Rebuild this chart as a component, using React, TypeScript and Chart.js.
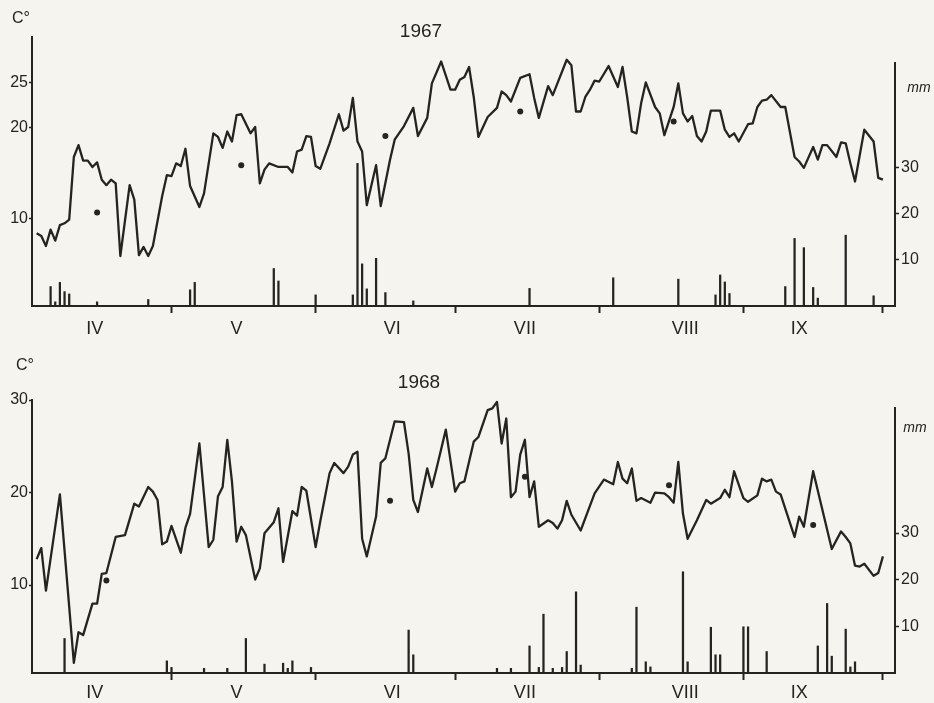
import React, { useEffect, useRef } from 'react';
import { Chart, registerables } from 'chart.js';

Chart.register(...registerables);

// ---------- shared axis data ----------
const monthBoundaryDays = [0, 30, 61, 91, 122, 153, 183];
const monthLabels = ['IV', 'V', 'VI', 'VII', 'VIII', 'IX'];
const monthLabelDays = [13.5, 44, 77.5, 106, 140.5, 165];
const rainTicks = [10, 20, 30];

// ---------- 1967 ----------
const temp1967Days = [1, 2, 3, 4, 5, 6, 7, 8, 9, 10, 11, 12, 13, 14, 15, 16, 17, 18, 19, 21, 22, 23, 24, 25, 26, 28, 29, 30, 31, 32, 33, 34, 36, 37, 39, 40, 41, 42, 43, 44, 45, 47, 48, 49, 50, 51, 53, 55, 56, 57, 58, 59, 60, 61, 62, 64, 66, 67, 68, 69, 70, 71, 72, 74, 75, 77, 78, 80, 82, 83, 85, 86, 88, 90, 91, 92, 93, 94, 95, 96, 98, 100, 101, 102, 103, 105, 107, 108, 109, 111, 112, 115, 116, 117, 118, 119, 120, 121, 122, 124, 126, 127, 128, 129, 130, 131, 132, 134, 135, 136, 138, 139, 140, 141, 142, 143, 144, 145, 146, 148, 149, 150, 151, 152, 154, 155, 156, 157, 158, 159, 161, 162, 164, 165, 166, 168, 169, 170, 171, 173, 174, 175, 176, 177, 179, 181, 182, 183];
const temp1967 = [8.4, 8.1, 7.0, 8.8, 7.6, 9.3, 9.5, 9.9, 16.8, 18.1, 16.4, 16.4, 15.7, 16.2, 14.3, 13.7, 14.3, 13.9, 5.9, 13.7, 12.1, 6.0, 6.9, 5.9, 7.0, 12.5, 14.8, 14.7, 16.1, 15.8, 17.7, 13.6, 11.3, 12.8, 19.4, 19.0, 17.8, 19.6, 18.5, 21.4, 21.5, 19.4, 20.1, 13.9, 15.4, 16.1, 15.7, 15.7, 15.1, 17.4, 17.6, 19.1, 19.0, 15.8, 15.5, 18.3, 21.5, 19.7, 20.1, 23.3, 18.5, 17.4, 11.5, 15.9, 11.4, 16.5, 18.7, 20.2, 22.2, 19.1, 21.1, 24.9, 27.3, 24.2, 24.2, 25.3, 25.6, 26.7, 23.4, 19.0, 21.2, 22.2, 24.0, 23.6, 22.9, 25.5, 25.9, 23.3, 21.1, 24.6, 23.6, 27.5, 26.9, 21.8, 21.8, 23.4, 24.2, 25.2, 25.1, 26.8, 24.5, 26.7, 23.4, 19.6, 19.4, 22.7, 25.0, 22.3, 21.6, 19.2, 22.3, 24.9, 21.6, 20.7, 21.3, 19.1, 18.5, 19.6, 21.9, 21.9, 19.8, 19.0, 19.4, 18.5, 20.4, 20.5, 22.3, 23.0, 23.1, 23.6, 22.3, 22.3, 16.8, 16.3, 15.6, 17.9, 16.5, 18.1, 18.1, 16.8, 18.4, 18.3, 16.1, 14.1, 19.8, 18.5, 14.5, 14.3];
const rain1967Days = [4, 5, 6, 7, 8, 14, 25, 34, 35, 52, 53, 61, 69, 70, 71, 72, 74, 76, 82, 107, 125, 139, 147, 148, 149, 150, 162, 164, 166, 168, 169, 175, 181];
const rain1967 = [4.2, 0.9, 5.1, 3.1, 2.6, 0.9, 1.4, 3.5, 5.1, 8.1, 5.4, 2.4, 2.4, 30.8, 9.1, 3.7, 10.3, 2.9, 1.1, 3.8, 6.1, 5.8, 2.4, 6.7, 5.2, 2.7, 4.2, 14.6, 12.6, 4.0, 1.7, 15.3, 2.2];
const mean1967Days = [14, 45, 76, 105, 138];
const mean1967 = [10.7, 15.9, 19.1, 21.8, 20.7];
const tempTicks1967 = [10, 20, 25];

// ---------- 1968 ----------
const temp1968Days = [1, 2, 3, 6, 9, 10, 11, 13, 14, 15, 16, 18, 20, 22, 23, 25, 26, 27, 28, 29, 30, 32, 33, 34, 36, 38, 39, 40, 41, 42, 43, 44, 45, 46, 48, 49, 50, 52, 53, 54, 56, 57, 58, 59, 61, 62, 64, 65, 67, 68, 69, 70, 71, 72, 74, 75, 76, 78, 80, 81, 82, 83, 85, 86, 87, 89, 91, 92, 93, 95, 96, 98, 99, 100, 101, 102, 103, 104, 105, 106, 107, 108, 109, 111, 112, 113, 114, 115, 116, 118, 121, 123, 125, 126, 127, 128, 129, 130, 131, 133, 134, 136, 137, 138, 139, 140, 141, 143, 145, 146, 148, 149, 150, 151, 153, 154, 156, 157, 158, 159, 160, 161, 164, 165, 166, 168, 172, 174, 175, 176, 177, 178, 179, 181, 182, 183];
const temp1968 = [12.8, 14.0, 9.4, 19.8, 1.6, 4.9, 4.6, 8.0, 8.0, 11.2, 11.3, 15.2, 15.4, 18.8, 18.5, 20.6, 20.1, 19.2, 14.4, 14.7, 16.4, 13.5, 16.2, 17.7, 25.3, 14.1, 14.9, 19.6, 20.6, 25.7, 21.2, 14.7, 16.3, 15.4, 10.6, 11.8, 15.6, 16.8, 18.3, 12.5, 18.0, 17.5, 20.6, 20.2, 14.1, 16.9, 22.1, 23.2, 22.1, 22.8, 24.1, 24.4, 15.0, 13.1, 17.4, 23.2, 23.7, 27.7, 27.6, 24.2, 19.2, 17.9, 22.6, 20.6, 22.6, 26.8, 20.1, 21.0, 21.2, 25.5, 26.0, 28.9, 29.1, 29.8, 25.3, 28.0, 19.5, 20.1, 24.1, 25.7, 19.5, 21.2, 16.3, 17.0, 16.7, 16.1, 17.0, 19.1, 17.6, 15.9, 19.9, 21.4, 20.9, 23.3, 21.5, 21.0, 22.6, 19.1, 19.4, 18.9, 20.0, 19.9, 19.5, 18.9, 23.3, 17.7, 15.0, 17.0, 19.2, 18.8, 19.4, 20.3, 19.5, 22.3, 19.4, 19.0, 19.7, 21.5, 21.2, 21.4, 20.1, 19.8, 15.2, 17.4, 16.3, 22.3, 13.9, 15.8, 15.2, 14.5, 12.1, 12.0, 12.3, 11.0, 11.3, 13.1];
const rain1968Days = [7, 29, 30, 37, 42, 46, 50, 54, 55, 56, 60, 81, 82, 100, 103, 107, 109, 110, 112, 114, 115, 117, 118, 129, 130, 132, 133, 140, 141, 146, 147, 148, 153, 154, 158, 169, 171, 172, 175, 176, 177];
const rain1968 = [7.4, 2.6, 1.2, 1.0, 1.0, 7.4, 1.9, 2.1, 1.0, 2.6, 1.2, 9.2, 3.9, 1.0, 1.0, 5.8, 1.2, 12.6, 1.0, 1.2, 4.6, 17.4, 1.7, 1.0, 14.1, 2.4, 1.3, 21.7, 2.4, 9.8, 3.9, 3.9, 9.9, 9.9, 4.6, 5.8, 14.9, 3.6, 9.4, 1.3, 2.4];
const mean1968Days = [16, 77, 106, 137, 168];
const mean1968 = [10.5, 19.1, 21.7, 20.8, 16.5];
const tempTicks1968 = [10, 20, 30];

// ---------- styling ----------
const INK = '#262421';
const PAPER = '#f6f4ef';
const FONT = "'Liberation Sans', 'DejaVu Sans', sans-serif";
const W = 934;

const toPoints = (xs: number[], ys: number[]) => xs.map((x, i) => ({ x, y: ys[i] }));

const annotate = {
  id: 'annotate',
  beforeDraw(chart: any) {
    const { ctx } = chart;
    ctx.save();
    ctx.fillStyle = PAPER;
    ctx.fillRect(0, 0, chart.width, chart.height);
    ctx.restore();
  },
  afterDraw(chart: any, _args: any, opts: any) {
    const { ctx } = chart;
    const y2 = chart.scales.y2;
    ctx.save();
    ctx.strokeStyle = INK;
    ctx.lineWidth = 2;
    ctx.beginPath();
    ctx.moveTo(y2.left, y2.getPixelForValue(opts.mmAxisTop));
    ctx.lineTo(y2.left, chart.chartArea.bottom + 1);
    ctx.stroke();
    ctx.fillStyle = INK;
    ctx.textAlign = 'center';
    ctx.textBaseline = 'middle';
    ctx.font = `19px ${FONT}`;
    ctx.fillText(opts.title, opts.titleX, opts.titleY);
    ctx.font = `16px ${FONT}`;
    ctx.fillText('C°', opts.cX, opts.cY);
    ctx.font = `italic 14px ${FONT}`;
    ctx.fillText('mm', opts.mmX, opts.mmY);
    ctx.restore();
  },
};

interface PanelCfg {
  top: number;
  height: number;
  areaTop: number;
  xHeight: number;
  labelPad: number;
  tempMin: number;
  tempTicks: number[];
  mmMax: number;
  tempDays: number[];
  temps: number[];
  rainDays: number[];
  rain: number[];
  meanDays: number[];
  means: number[];
  note: any;
}

function buildConfig(cfg: PanelCfg): any {
  const xTicks = [...monthBoundaryDays, ...monthLabelDays].sort((a, b) => a - b);
  return {
    type: 'line',
    data: {
      datasets: [
        {
          type: 'line',
          data: toPoints(cfg.tempDays, cfg.temps),
          yAxisID: 'y',
          borderColor: INK,
          borderWidth: 2.3,
          pointRadius: 0,
          tension: 0,
          borderJoinStyle: 'round',
          order: 1,
        },
        {
          type: 'bar',
          data: toPoints(cfg.rainDays, cfg.rain),
          yAxisID: 'y2',
          backgroundColor: INK,
          barThickness: 1.6,
          order: 2,
        },
        {
          type: 'scatter',
          data: toPoints(cfg.meanDays, cfg.means),
          yAxisID: 'y',
          pointRadius: 3,
          pointBackgroundColor: INK,
          pointBorderWidth: 0,
          showLine: false,
          order: 0,
        },
      ],
    },
    options: {
      responsive: false,
      animation: false,
      devicePixelRatio: 1,
      events: [],
      layout: { padding: { top: cfg.areaTop, left: 0, right: 0, bottom: 0 } },
      plugins: {
        legend: { display: false },
        tooltip: { enabled: false },
        annotate: cfg.note,
      },
      scales: {
        x: {
          type: 'linear',
          min: 0,
          max: 185.6,
          offset: false,
          afterBuildTicks: (s: any) => {
            s.ticks = xTicks.map((v) => ({ value: v }));
          },
          afterFit: (s: any) => {
            s.height = cfg.xHeight;
          },
          ticks: {
            autoSkip: false,
            maxRotation: 0,
            padding: cfg.labelPad,
            color: INK,
            font: { family: FONT, size: 18 },
            callback: (v: number) => {
              const i = monthLabelDays.indexOf(v);
              return i >= 0 ? monthLabels[i] : '';
            },
          },
          grid: {
            offset: false,
            drawOnChartArea: false,
            drawTicks: true,
            tickLength: 7,
            tickWidth: 2,
            tickColor: (c: any) =>
              c.tick && c.tick.value > 0 && monthBoundaryDays.includes(c.tick.value)
                ? INK
                : 'rgba(0,0,0,0)',
          },
          border: { display: true, color: INK, width: 2 },
        },
        y: {
          position: 'left',
          min: cfg.tempMin,
          max: 30,
          afterBuildTicks: (s: any) => {
            s.ticks = cfg.tempTicks.map((v) => ({ value: v }));
          },
          afterFit: (s: any) => {
            s.width = 32;
          },
          ticks: { padding: 1, color: INK, font: { family: FONT, size: 16 } },
          grid: { drawOnChartArea: false, tickLength: 3, tickColor: INK, tickWidth: 1.5 },
          border: { display: true, color: INK, width: 2 },
        },
        y2: {
          position: 'right',
          min: 0,
          max: cfg.mmMax,
          afterBuildTicks: (s: any) => {
            s.ticks = rainTicks.map((v) => ({ value: v }));
          },
          afterFit: (s: any) => {
            s.width = W - 895;
          },
          ticks: { padding: 2, color: INK, font: { family: FONT, size: 16 } },
          grid: { drawOnChartArea: false, tickLength: 4, tickColor: INK, tickWidth: 1.5 },
          border: { display: false },
        },
      },
    },
    plugins: [annotate],
  };
}

const panel1967: PanelCfg = {
  top: 0,
  height: 350,
  areaTop: 37,
  xHeight: 44,
  labelPad: 5,
  tempMin: 0.4,
  tempTicks: tempTicks1967,
  mmMax: 58.1,
  tempDays: temp1967Days,
  temps: temp1967,
  rainDays: rain1967Days,
  rain: rain1967,
  meanDays: mean1967Days,
  means: mean1967,
  note: { title: '1967', titleX: 421, titleY: 32, cX: 21, cY: 19, mmX: 919, mmY: 88, mmAxisTop: 52.7 },
};

const panel1968: PanelCfg = {
  top: 350,
  height: 353,
  areaTop: 50,
  xHeight: 30,
  labelPad: 2,
  tempMin: 0.5,
  tempTicks: tempTicks1968,
  mmMax: 58.5,
  tempDays: temp1968Days,
  temps: temp1968,
  rainDays: rain1968Days,
  rain: rain1968,
  meanDays: mean1968Days,
  means: mean1968,
  note: { title: '1968', titleX: 419, titleY: 33, cX: 25, cY: 16, mmX: 915, mmY: 78, mmAxisTop: 57.0 },
};

function Panel({ cfg }: { cfg: PanelCfg }) {
  const ref = useRef<HTMLCanvasElement>(null);
  useEffect(() => {
    const chart = new Chart(ref.current as HTMLCanvasElement, buildConfig(cfg));
    return () => chart.destroy();
  }, [cfg]);
  return (
    <canvas
      ref={ref}
      width={W}
      height={cfg.height}
      style={{ position: 'absolute', left: 0, top: cfg.top, width: W, height: cfg.height, display: 'block' }}
    />
  );
}

export default function App() {
  return (
    <div style={{ position: 'fixed', left: 0, top: 0, width: W, height: 703, background: PAPER, overflow: 'hidden' }}>
      <Panel cfg={panel1967} />
      <Panel cfg={panel1968} />
    </div>
  );
}
